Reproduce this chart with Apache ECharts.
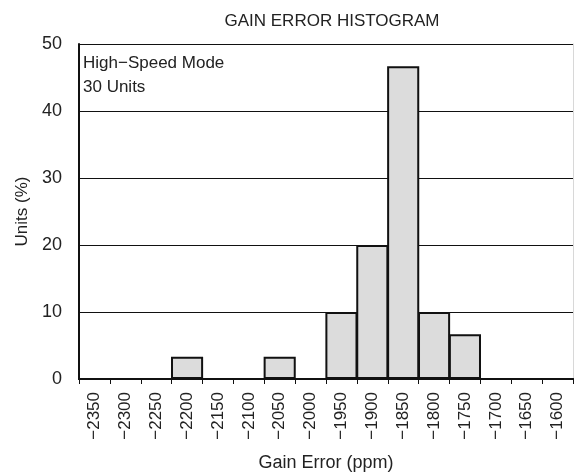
<!DOCTYPE html>
<html>
<head>
<meta charset="utf-8">
<script src="https://cdn.jsdelivr.net/npm/echarts@6/dist/echarts.min.js"></script>
<style>
  html, body { margin: 0; padding: 0; background: #fff; }
  #chart { width: 574px; height: 472px; }
</style>
</head>
<body>
<div id="chart"></div>
<script>
// bin labels (ppm)
var categories = ['\u22122350', '\u22122300', '\u22122250', '\u22122200', '\u22122150', '\u22122100',
    '\u22122050', '\u22122000', '\u22121950', '\u22121900', '\u22121850', '\u22121800',
    '\u22121750', '\u22121700', '\u22121650', '\u22121600'];
// percent of 30 units in each bin
var unitsPct = [0, 0, 0, 3.33, 0, 0, 3.33, 0, 10, 20, 46.67, 10, 6.67, 0, 0, 0];
var yTicks = [0, 10, 20, 30, 40, 50];
var noteLines = ['High\u2212Speed Mode', '30 Units'];

var font = 'Liberation Sans, Arial, sans-serif';
var chart = echarts.init(document.getElementById('chart'));

chart.setOption({
    animation: false,
    title: {
        text: 'GAIN ERROR HISTOGRAM',
        left: 327, top: 8, textAlign: 'center',
        textStyle: { fontFamily: font, fontSize: 17, fontWeight: 'normal', color: '#222' }
    },
    grid: { left: 79, right: 1, top: 44, bottom: 93, outerBoundsMode: 'none', containLabel: false },
    graphic: [{
        type: 'text',
        left: 83, top: 51,
        style: {
            text: noteLines.join('\n'),
            font: '17px ' + font,
            lineHeight: 24,
            fill: '#222'
        }
    }],
    xAxis: [{
        type: 'category',
        data: categories,
        name: 'Gain Error (ppm)',
        nameLocation: 'middle',
        nameGap: 75,
        nameTextStyle: { fontFamily: font, fontSize: 18, color: '#222' },
        axisLine: { lineStyle: { color: '#111', width: 2 } },
        axisTick: { show: true, length: 5, lineStyle: { color: '#111', width: 1 } },
        axisLabel: { rotate: 90, margin: 13, fontFamily: font, fontSize: 17, color: '#222', interval: 0 },
        splitLine: { show: false }
    }, {
        type: 'category',
        data: categories,
        position: 'top',
        axisLine: { lineStyle: { color: '#111', width: 2 } },
        axisTick: { show: false },
        axisLabel: { show: false }
    }],
    yAxis: [{
        type: 'value',
        min: 0, max: 50, interval: 10,
        name: 'Units (%)',
        nameLocation: 'middle',
        nameGap: 48,
        nameTextStyle: { fontFamily: font, fontSize: 17, color: '#222' },
        axisLine: { show: true, lineStyle: { color: '#111', width: 2 } },
        axisTick: { show: false },
        axisLabel: {
            margin: 17, fontFamily: font, fontSize: 18, color: '#222',
            formatter: function (v) { return yTicks.indexOf(v) >= 0 ? String(v) : ''; }
        },
        splitLine: { show: true, lineStyle: { color: '#111', width: 1 } }
    }, {
        type: 'value',
        min: 0, max: 50, interval: 10,
        position: 'right',
        axisLine: { show: true, lineStyle: { color: '#d8d8d8', width: 1 } },
        axisTick: { show: false },
        axisLabel: { show: false },
        splitLine: { show: false }
    }],
    series: [{
        type: 'bar',
        data: unitsPct,
        barWidth: '104%',
        barCategoryGap: 0,
        itemStyle: { color: '#dcdcdc', borderColor: '#111', borderWidth: 2 },
        z: 3
    }]
});
</script>
</body>
</html>
